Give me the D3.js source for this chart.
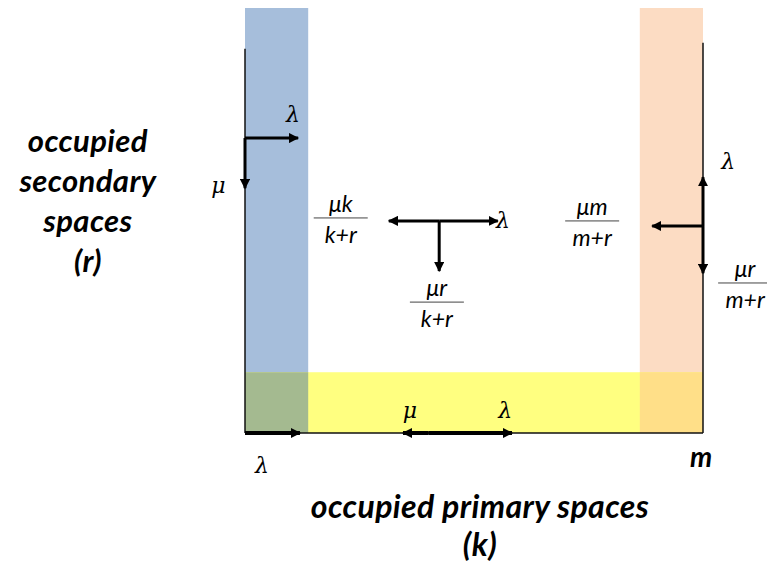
<!DOCTYPE html>
<html><head><meta charset="utf-8">
<script src="https://cdn.jsdelivr.net/npm/d3@7"></script>
<style>body{margin:0;background:#fff}svg{display:block}</style>
</head><body>
<script>
// Abstract diagram units: k from 0..100 (m = 100), r from 0..100
const regions = [
  {name:"secondary", x0:0, x1:13.8, y0:0, y1:100, color:"#a6bedb"},
  {name:"mboundary", x0:86.2, x1:100, y0:0, y1:100, color:"#fcdcc3"},
  {name:"primary", x0:0, x1:100, y0:0, y1:14.3, color:"#ffff80"},
  {name:"overlapL", x0:0, x1:13.8, y0:0, y1:14.3, color:"#a4ba90"},
  {name:"overlapR", x0:86.2, x1:100, y0:0, y1:14.3, color:"#ffdf88"}
];
const axisLines = [
  {x1:0, y1:0, x2:0, y2:90.4},
  {x1:0, y1:0, x2:100, y2:0},
  {x1:100, y1:0, x2:100, y2:91.8}
];
const arrows = [
  {x1:0, y1:69.4, x2:11.6, y2:69.4, w:3},
  {x1:0, y1:69.4, x2:0, y2:57.6, w:3},
  {x1:42.4, y1:49.9, x2:31.4, y2:49.9, w:3},
  {x1:42.4, y1:49.9, x2:55.2, y2:49.9, w:3},
  {x1:42.4, y1:49.9, x2:42.4, y2:38.1, w:3},
  {x1:100, y1:48.7, x2:88.9, y2:48.7, w:3},
  {x1:100, y1:48.7, x2:100, y2:60.2, w:3},
  {x1:100, y1:48.7, x2:100, y2:37.6, w:3},
  {x1:0, y1:0, x2:12.0, y2:0, w:4},
  {x1:40.0, y1:0, x2:34.5, y2:0, w:4},
  {x1:40.0, y1:0, x2:58.3, y2:0, w:4}
];
const symbols = [
  {t:"λ", x:10.5, y:74.6}, {t:"μ", x:-5.8, y:58.0},
  {t:"λ", x:56.3, y:49.6},
  {t:"λ", x:105.5, y:63.6},
  {t:"μ", x:36.0, y:5.0}, {t:"λ", x:56.8, y:5.0},
  {t:"λ", x:3.7, y:-8.0}
];
const fractions = [
  {num:"μk", den:"k+r", x:20.9, y:50.6},
  {num:"μr", den:"k+r", x:41.9, y:30.8},
  {num:"μm", den:"m+r", x:75.8, y:49.9},
  {num:"μr", den:"m+r", x:109.2, y:35.3}
];
const axisLabels = [
  {lines:["occupied","secondary","spaces","(r)"], x:-34.3, y:66.1, gap:40, size:31},
  {lines:["occupied primary spaces","(k)"], x:51.3, y:-20, gap:38, size:32}
];
const endLabel = {t:"m", x:99.6, y:-6.4};

const W=767, H=583;
const x = d3.scaleLinear().domain([0,100]).range([245,703]);
const y = d3.scaleLinear().domain([0,100]).range([433,8]);
const svg = d3.select("body").append("svg").attr("width",W).attr("height",H);
const defs = svg.append("defs");
defs.append("marker").attr("id","ah").attr("viewBox","0 0 10 10").attr("refX",9).attr("refY",5)
  .attr("markerWidth",3.4).attr("markerHeight",3.4).attr("orient","auto-start-reverse")
  .append("path").attr("d","M0,0L10,5L0,10z").attr("fill","#000");
defs.append("marker").attr("id","ah2").attr("viewBox","0 0 10 10").attr("refX",9).attr("refY",5)
  .attr("markerWidth",2.6).attr("markerHeight",2.6).attr("orient","auto-start-reverse")
  .append("path").attr("d","M0,0L10,5L0,10z").attr("fill","#000");

svg.selectAll("rect.reg").data(regions).join("rect").attr("class","reg")
  .attr("x",d=>x(d.x0)).attr("y",d=>y(d.y1))
  .attr("width",d=>x(d.x1)-x(d.x0)).attr("height",d=>y(d.y0)-y(d.y1))
  .attr("fill",d=>d.color);

svg.selectAll("line.ax").data(axisLines).join("line").attr("class","ax")
  .attr("x1",d=>x(d.x1)).attr("y1",d=>y(d.y1)).attr("x2",d=>x(d.x2)).attr("y2",d=>y(d.y2))
  .attr("stroke","#111").attr("stroke-width",1.5);

svg.selectAll("line.arr").data(arrows).join("line").attr("class","arr")
  .attr("x1",d=>x(d.x1)).attr("y1",d=>y(d.y1)).attr("x2",d=>x(d.x2)).attr("y2",d=>y(d.y2))
  .attr("stroke","#000").attr("stroke-width",d=>d.w)
  .attr("marker-end",d=>d.w>3?"url(#ah2)":"url(#ah)");

const mathFont = "'DejaVu Serif', 'Liberation Serif', serif";
svg.selectAll("text.sym").data(symbols).join("text").attr("class","sym")
  .attr("x",d=>x(d.x)).attr("y",d=>y(d.y)).attr("text-anchor","middle").attr("dominant-baseline","middle")
  .attr("font-family",mathFont).attr("font-style","italic").attr("font-size",22).text(d=>d.t);

const sans = "Lato, 'Open Sans', sans-serif";
const fr = svg.selectAll("g.fr").data(fractions).join("g").attr("class","fr")
  .attr("transform",d=>`translate(${x(d.x)},${y(d.y)})`);
fr.append("text").attr("y",-6).attr("text-anchor","middle").attr("font-family",sans)
  .attr("font-style","italic").attr("font-size",23).text(d=>d.num);
fr.append("line").attr("x1",-27).attr("x2",27).attr("stroke","#444").attr("stroke-width",1);
fr.append("text").attr("y",25).attr("text-anchor","middle").attr("font-family",sans)
  .attr("font-style","italic").attr("font-size",23).text(d=>d.den);

axisLabels.forEach(l=>{
  const t = svg.append("text").attr("text-anchor","middle")
    .attr("font-family",sans).attr("font-style","italic")
    .attr("font-weight","bold").attr("font-size",l.size).attr("letter-spacing",0.4);
  l.lines.forEach((s,i)=>t.append("tspan").attr("x",x(l.x)).attr("y",y(l.y)+i*l.gap).text(s));
});
svg.append("text").attr("x",x(endLabel.x)).attr("y",y(endLabel.y)).attr("text-anchor","middle")
  .attr("dominant-baseline","middle").attr("font-family",sans)
  .attr("font-style","italic").attr("font-weight","bold").attr("font-size",28).text(endLabel.t);
</script>
</body></html>
